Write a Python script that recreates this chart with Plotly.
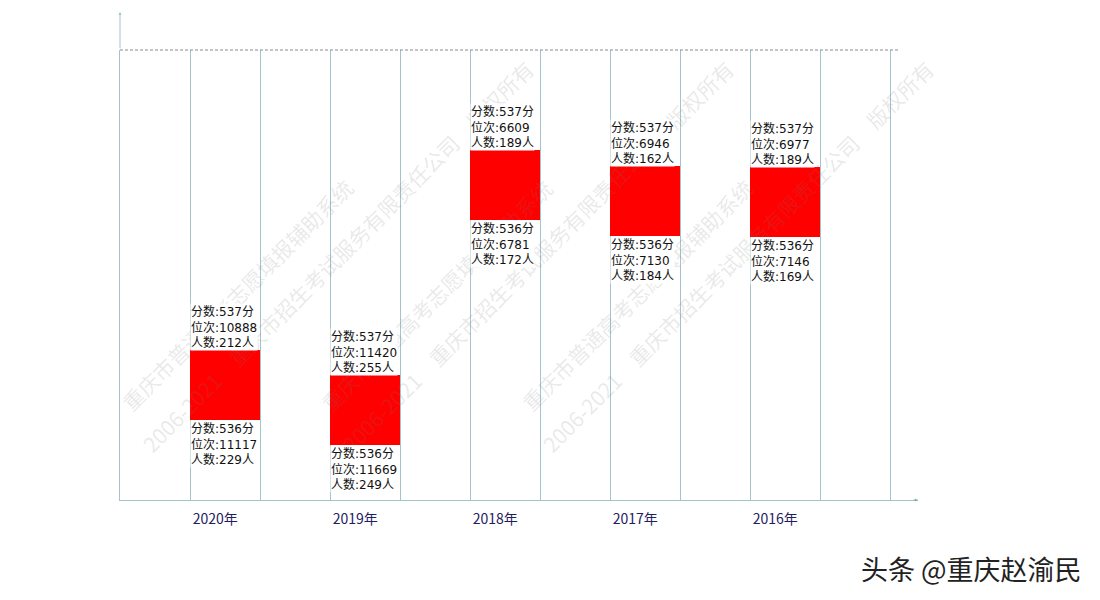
import plotly.graph_objects as go

# 重庆 536/537 分位次对比
years = ['2020年', '2019年', '2018年', '2017年', '2016年']
score_hi = 537
score_lo = 536
rank_hi = [10888, 11420, 6609, 6946, 6977]
count_hi = [212, 255, 189, 162, 189]
rank_lo = [11117, 11669, 6781, 7130, 7146]
count_lo = [229, 249, 172, 184, 169]

box_span = 1500          # drawn height of each red box, in rank units
y_top, y_bottom = 4471, 14093
line_col = '#a3c4ce'
cjk = 'Noto Sans CJK SC'
lab_font = dict(family='DejaVu Sans, Noto Sans CJK SC', size=12, color='#111')

left = [2 * i + 1 for i in range(len(years))]
centers = [x + 0.5 for x in left]

fig = go.Figure()
fig.add_trace(go.Bar(x=centers, y=[box_span] * len(years), base=rank_hi, width=1,
                     marker=dict(color='#ff0000', line=dict(width=0)),
                     hoverinfo='skip', showlegend=False))

# watermark tiles
wm1 = '重庆市普通高考志愿填报辅助系统'
wm2 = '2006-2021\u3000重庆市招生考试服务有限责任公司\u3000版权所有'
wm_font = dict(family=cjk, size=21, color='rgba(120,120,120,0.17)')
for k in range(3):
    dx = k * 200 / 798
    fig.add_annotation(xref='paper', yref='paper', x=(237 - 120) / 798 + dx, y=(500 - 295) / 450,
                       text=wm1, showarrow=False, textangle=-45,
                       xanchor='center', yanchor='middle', font=wm_font)
    fig.add_annotation(xref='paper', yref='paper', x=(338 - 120) / 798 + dx, y=(500 - 256) / 450,
                       text=wm2, showarrow=False, textangle=-45,
                       xanchor='center', yanchor='middle', font=wm_font)

for i in range(len(years)):
    top_txt = '分数:%d分<br>位次:%d<br>人数:%d人' % (score_hi, rank_hi[i], count_hi[i])
    bot_txt = '分数:%d分<br>位次:%d<br>人数:%d人' % (score_lo, rank_lo[i], count_lo[i])
    fig.add_annotation(x=left[i], y=rank_hi[i], text=top_txt, showarrow=False,
                       xanchor='left', yanchor='bottom', align='left', yshift=-1,
                       font=lab_font, bgcolor='white', borderpad=0)
    fig.add_annotation(x=left[i], y=rank_hi[i] + box_span, text=bot_txt, showarrow=False,
                       xanchor='left', yanchor='top', align='left',
                       font=lab_font, bgcolor='white', borderpad=0)

# dashed top line and axis arrows
fig.add_shape(type='line', xref='paper', yref='paper', x0=0, x1=(900 - 120) / 798, y0=1, y1=1,
              line=dict(color='#8a8a8a', width=1, dash='3px,2px'))
fig.add_annotation(xref='paper', yref='paper', x=0, y=1 + 38 / 450, ax=0, ay=38, text='',
                   showarrow=True, arrowhead=2, arrowsize=0.6, arrowwidth=1, arrowcolor=line_col)
fig.add_annotation(xref='paper', yref='paper', x=1, y=0, ax=-6, ay=0, text='',
                   showarrow=True, arrowhead=2, arrowsize=0.6, arrowwidth=1, arrowcolor='#9aa')

fig.add_annotation(xref='paper', yref='paper', x=(1084 - 120) / 798, y=(500 - 568) / 450,
                   text='头条 @重庆赵渝民', showarrow=False, xanchor='right', yanchor='middle',
                   font=dict(family=cjk, size=27, color='#222'))

# page body has an 8px margin, so the margins are trimmed by 8 on the left/top
fig.update_layout(
    width=1100, height=600,
    margin=dict(l=112, r=190, t=42, b=108),
    paper_bgcolor='white', plot_bgcolor='white',
    xaxis=dict(range=[0, 11.4], tickvals=[x + 0.36 for x in left], ticktext=years,
               showgrid=False, zeroline=False, showline=True, linecolor=line_col, linewidth=1,
               ticks='', ticklabelstandoff=6,
               tickfont=dict(family=cjk, size=14, color='#1f2060'),
               minor=dict(tickmode='linear', tick0=0, dtick=1, showgrid=True,
                          gridcolor=line_col, gridwidth=1, ticks='')),
    yaxis=dict(range=[y_bottom, y_top], showticklabels=False, showgrid=False,
               zeroline=False, showline=True, linecolor=line_col, linewidth=1),
    bargap=0,
)

fig.write_html('out.html')
